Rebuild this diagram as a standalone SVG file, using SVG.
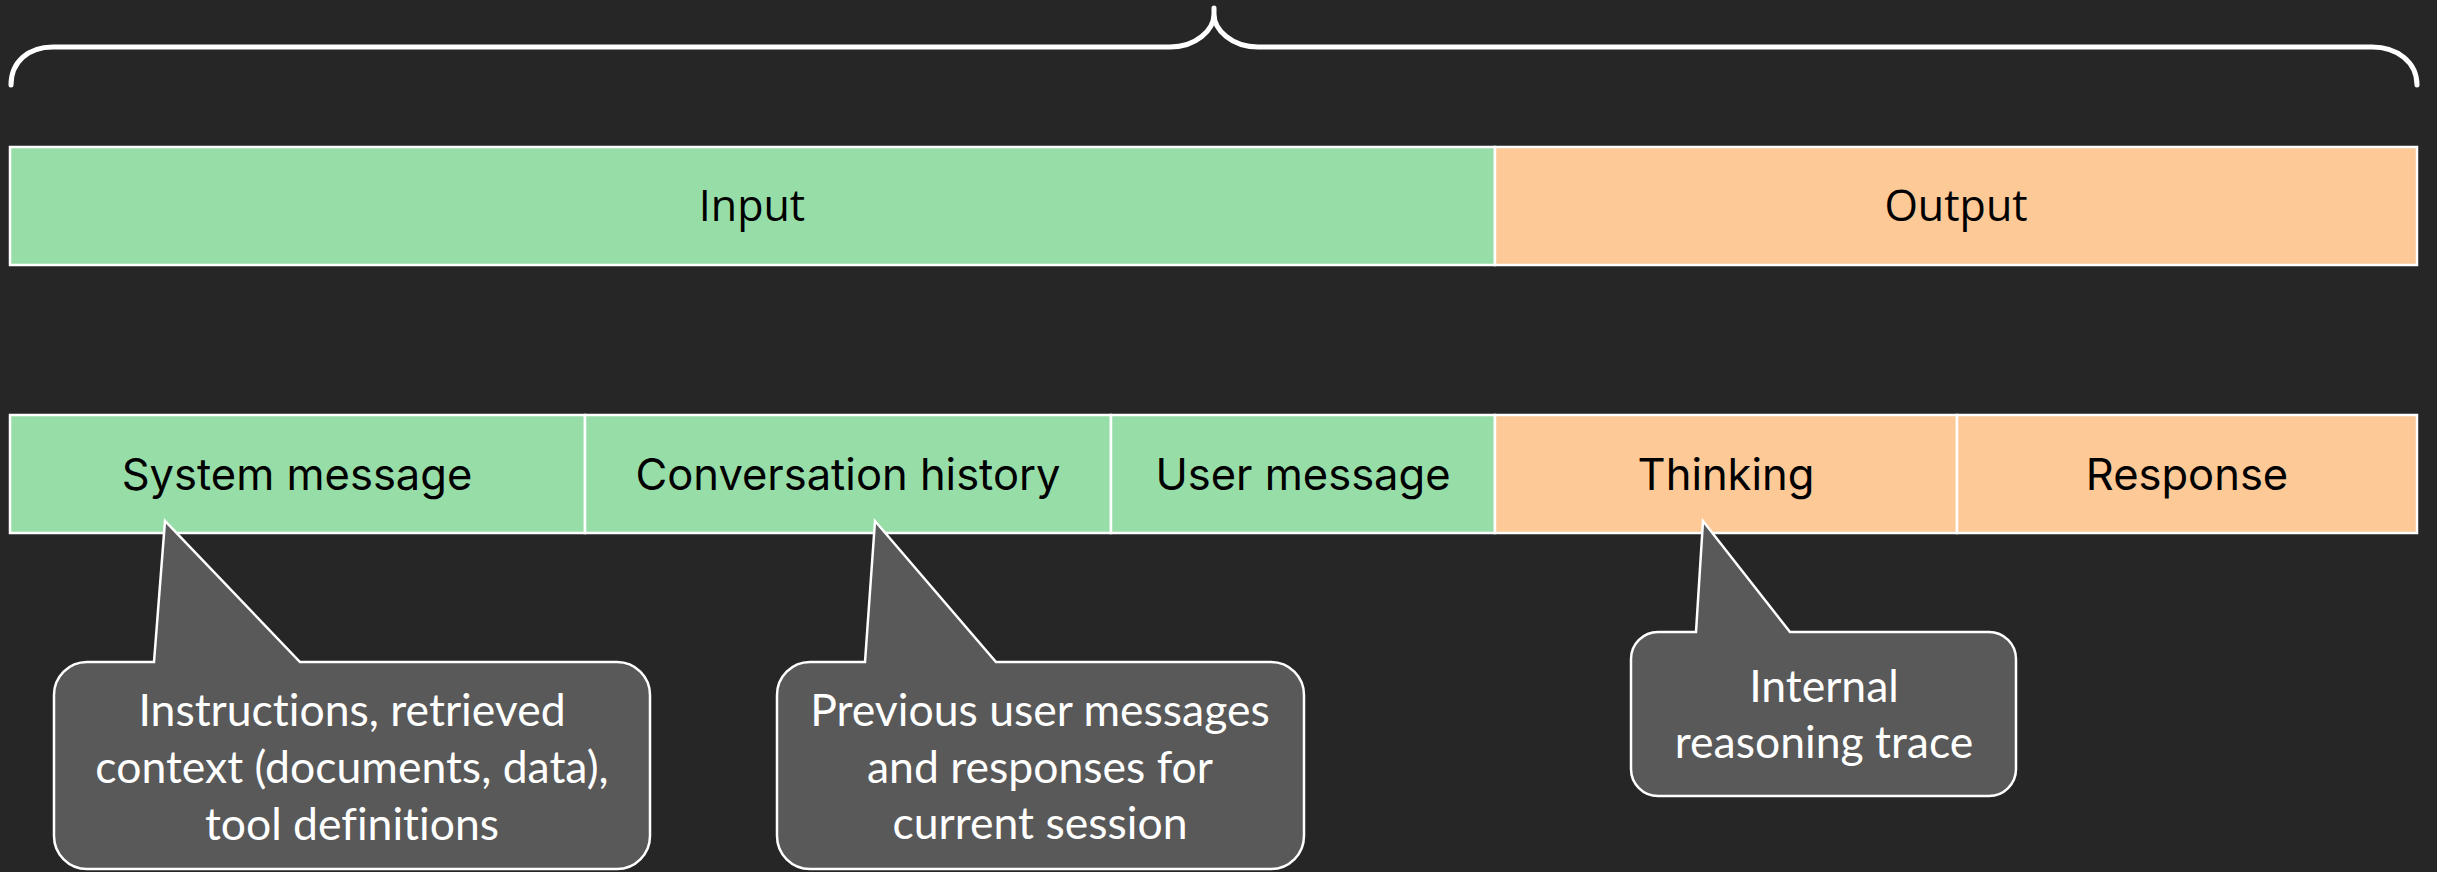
<svg xmlns="http://www.w3.org/2000/svg" width="2437" height="872" viewBox="0 0 2437 872">
  <style>
    .bg { fill: #262626; }
    .in { fill: #97DDA8; stroke: #FFFFFF; stroke-width: 2.5; }
    .out { fill: #FCC997; stroke: #FFFFFF; stroke-width: 2.5; }
    .brace { fill: none; stroke: #FFFFFF; stroke-width: 5; stroke-linecap: round; stroke-linejoin: round; }
    .callout { fill: #595959; stroke: #FFFFFF; stroke-width: 2.5; stroke-linejoin: miter; }
    .top-label { font-family: "Open Sans", "Noto Sans", sans-serif; font-size: 43px; fill: #000000; text-anchor: middle; }
    .seg-label { font-family: "Inter", "Liberation Sans", sans-serif; font-size: 43.5px; fill: #000000; text-anchor: middle; }
    .note { font-family: "Lato", "Liberation Sans", sans-serif; font-size: 44.5px; fill: #FFFFFF; text-anchor: middle; font-variant-ligatures: none; }
  </style>

  <rect class="bg" x="0" y="0" width="2437" height="872"/>

  <!-- curly brace spanning the whole context window -->
  <g id="brace">
    <path class="brace" d="M11,85 C11,62 28,47 53,47 L1170,47 C1196,47 1214,30 1214,14 L1214,8 M1214,14 C1214,30 1232,47 1258,47 L2372,47 C2397,47 2417,62 2417,85"/>
  </g>

  <!-- top bar: input / output -->
  <g id="input">
    <rect class="in" x="10" y="147" width="1485" height="118"/>
    <text class="top-label" x="752" y="221">Input</text>
  </g>
  <g id="output">
    <rect class="out" x="1495" y="147" width="922" height="118"/>
    <text class="top-label" x="1956" y="221">Output</text>
  </g>

  <!-- second bar: segments -->
  <g id="system-message">
    <rect class="in" x="10" y="415" width="575" height="118"/>
    <text class="seg-label" x="297" y="490">System message</text>
  </g>
  <g id="conversation-history">
    <rect class="in" x="585" y="415" width="526" height="118"/>
    <text class="seg-label" x="848" y="490">Conversation history</text>
  </g>
  <g id="user-message">
    <rect class="in" x="1111" y="415" width="384" height="118"/>
    <text class="seg-label" x="1303" y="490">User message</text>
  </g>
  <g id="thinking">
    <rect class="out" x="1495" y="415" width="462" height="118"/>
    <text class="seg-label" x="1726" y="490">Thinking</text>
  </g>
  <g id="response">
    <rect class="out" x="1957" y="415" width="460" height="118"/>
    <text class="seg-label" x="2187" y="490">Response</text>
  </g>

  <!-- callouts -->
  <g id="note-system">
    <path class="callout" d="M87,662 L154,662 L165,521 L300,662 L617,662 A33,33 0 0 1 650,695 L650,836 A33,33 0 0 1 617,869 L87,869 A33,33 0 0 1 54,836 L54,695 A33,33 0 0 1 87,662 Z"/>
    <text class="note" x="352" y="726">Instructions, retrieved</text>
    <text class="note" x="352" y="783">context (documents, data),</text>
    <text class="note" x="352" y="840">tool definitions</text>
  </g>
  <g id="note-history">
    <path class="callout" d="M810,662 L865,662 L875,521 L996,662 L1271,662 A33,33 0 0 1 1304,695 L1304,836 A33,33 0 0 1 1271,869 L810,869 A33,33 0 0 1 777,836 L777,695 A33,33 0 0 1 810,662 Z"/>
    <text class="note" x="1040" y="726">Previous user messages</text>
    <text class="note" x="1040" y="783">and responses for</text>
    <text class="note" x="1040" y="839">current session</text>
  </g>
  <g id="note-thinking">
    <path class="callout" d="M1658,632 L1696,632 L1703,521 L1790,632 L1989,632 A27,27 0 0 1 2016,659 L2016,769 A27,27 0 0 1 1989,796 L1658,796 A27,27 0 0 1 1631,769 L1631,659 A27,27 0 0 1 1658,632 Z"/>
    <text class="note" x="1824" y="702">Internal</text>
    <text class="note" x="1824" y="758">reasoning trace</text>
  </g>
</svg>
